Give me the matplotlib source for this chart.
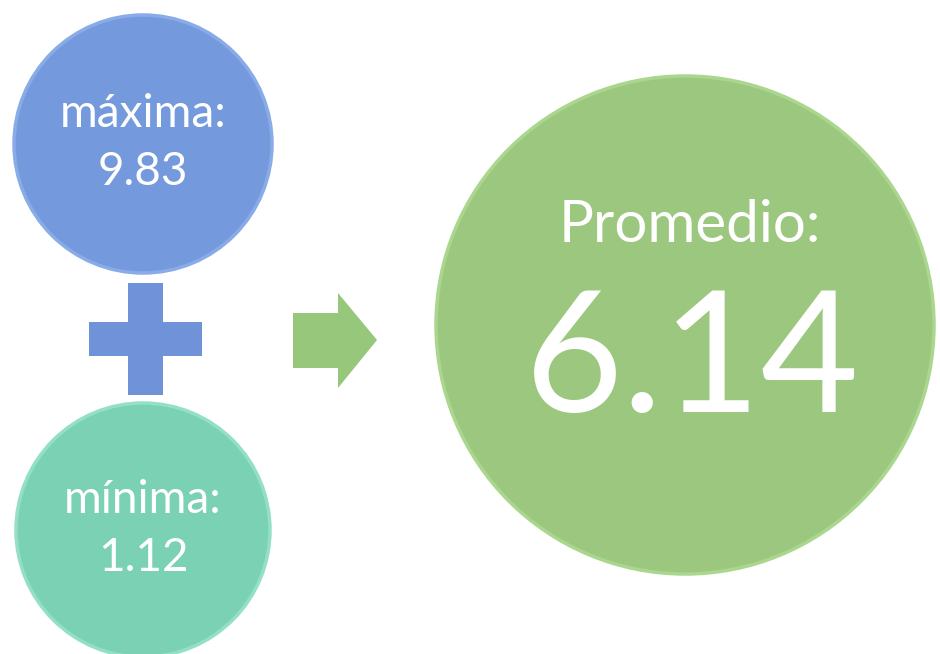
import matplotlib
matplotlib.use("Agg")
import matplotlib.pyplot as plt
from matplotlib.patches import Circle, Polygon, Rectangle

# values shown in the diagram
labels = ["máxima:", "mínima:"]
values = [9.83, 1.12]
avg_label = "Promedio:"
avg_value = 6.14

blue = "#7499dc"
teal = "#7bd1b4"
green = "#9cc77f"

fig = plt.figure(figsize=(9.4, 6.54), dpi=100)
ax = fig.add_axes([0, 0, 1, 1])
ax.set_xlim(0, 940)
ax.set_ylim(654, 0)
ax.set_aspect("equal")
ax.axis("off")

font = ["Lato", "DejaVu Sans"]

# small circles (max on top, min at bottom)
small = [(143, 144, 129, blue, "#89abe8"), (143, 530, 127, teal, "#93e0c6")]
for (cx, cy, r, fc, ec), lab, val in zip(small, labels, values):
    ax.add_patch(Circle((cx, cy), r, facecolor=fc, edgecolor=ec, lw=2.5))
    ax.text(cx, cy - 30, lab, color="white", fontsize=33, family=font,
            ha="center", va="center")
    ax.text(cx, cy + 28, f"{val:.2f}", color="white", fontsize=33, family=font,
            ha="center", va="center")

# plus sign
ax.add_patch(Rectangle((128, 283), 35, 112, facecolor="#6f92d8", lw=0))
ax.add_patch(Rectangle((89, 322), 113, 34, facecolor="#6f92d8", lw=0))

# arrow
arrow = [(293, 313), (338, 313), (338, 293), (377, 340),
         (338, 388), (338, 368), (293, 368)]
ax.add_patch(Polygon(arrow, closed=True, facecolor="#97c77a", lw=0))

# big circle with the average
ax.add_patch(Circle((685, 325), 249, facecolor=green, edgecolor="#aad78d", lw=2.5))
ax.text(690, 226, avg_label, color="white", fontsize=42, family=font,
        ha="center", va="center")
ax.text(692, 364, f"{avg_value:.2f}", color="white", fontsize=122, family=font,
        ha="center", va="center")

fig.savefig("out.png", dpi=100, facecolor="white")
